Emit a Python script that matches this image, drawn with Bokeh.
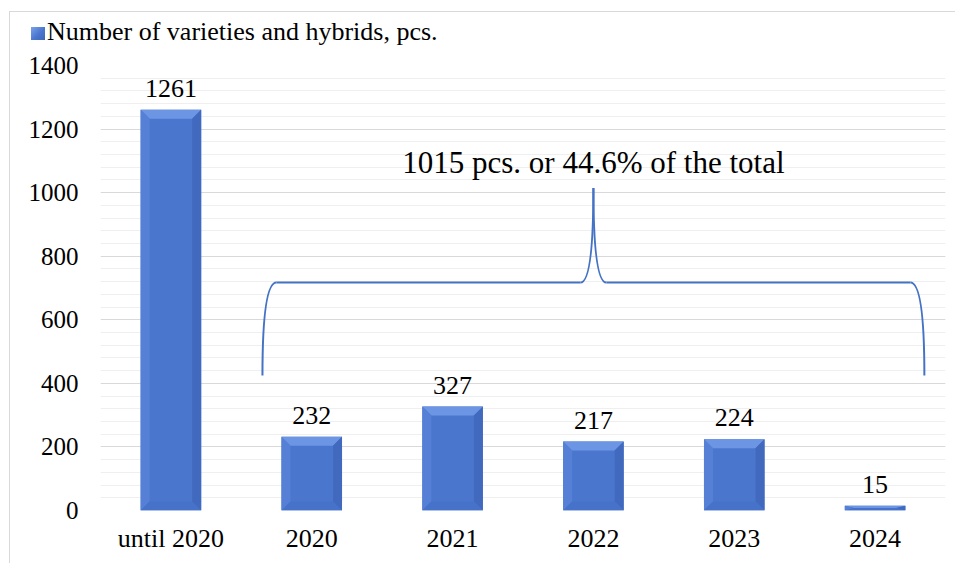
import numpy as np
from bokeh.plotting import figure
from bokeh.layouts import column
from bokeh.models import (FactorRange, Range1d, SingleIntervalTicker, ColumnDataSource,
                          LabelSet, Label, Div)
from bokeh.embed import file_html
from bokeh.resources import INLINE
from bokeh.core.properties import value

# ---- data ----
categories = ["until 2020", "2020", "2021", "2022", "2023", "2024"]
counts = [1261, 232, 327, 217, 224, 15]
series_name = "Number of varieties and hybrids, pcs."
brace_total = sum(counts[1:])           # 1015
total_all = sum(counts)
annotation_text = f"{brace_total} pcs. or {brace_total / total_all * 100:.1f}% of the total"
brace_left, brace_right = 1.15, 5.85    # in category units
brace_arm_y = 717
brace_end_y = 425
y_max = 1400

# ---- layout ----
FW, FH = 845, 445
px_x = FW / len(categories)
px_y = FH / y_max
FONT = "Liberation Serif"
BAR_COLOR = "#4A76CE"
LEGEND_H = 45

p = figure(x_range=FactorRange(*categories), y_range=Range1d(0, y_max),
           frame_width=FW, frame_height=FH,
           min_border_left=100, min_border_right=10, min_border_top=65 - LEGEND_H,
           min_border_bottom=53,
           output_backend="svg", toolbar_location=None)
p.outline_line_color = None
p.background_fill_color = "white"
p.border_fill_alpha = 0

# grid
p.yaxis.ticker = SingleIntervalTicker(interval=200, num_minor_ticks=5)
p.xgrid.grid_line_color = None
p.ygrid.grid_line_color = "#d9d9d9"
p.ygrid.minor_grid_line_color = "#efefef"

for ax in (p.xaxis[0], p.yaxis[0]):
    ax.axis_line_color = None
    ax.major_tick_line_color = None
    ax.minor_tick_line_color = None
    ax.major_tick_out = 0
    ax.major_tick_in = 0
    ax.minor_tick_out = 0
    ax.minor_tick_in = 0
    ax.major_label_text_font = FONT
    ax.major_label_text_color = "black"
p.yaxis.major_label_text_font_size = "25px"
p.xaxis.major_label_text_font_size = "26px"
p.yaxis.major_label_standoff = 22
p.xaxis.major_label_standoff = 13

# bars
BW = 0.43
src = ColumnDataSource(dict(cat=categories, val=counts, lab=[str(c) for c in counts]))
bars = p.vbar(x="cat", top="val", width=BW, source=src, fill_color=BAR_COLOR, line_color=None)

# bevel facets
b = 9
xs, ys, cols = [], [], []
for i, v in enumerate(counts):
    xc = i + 0.5
    xl, xr = xc - BW / 2, xc + BW / 2
    bx = b / px_x
    by = min(b / px_y, v / 2)
    xs += [[xl, xr, xr - bx, xl + bx], [xl, xl, xl + bx, xl + bx],
           [xr, xr, xr - bx, xr - bx], [xl, xr, xr - bx, xl + bx]]
    ys += [[v, v, v - by, v - by], [0, v, v - by, by],
           [0, v, v - by, by], [0, 0, by, by]]
    cols += ["#6C96E4", "#5580D6", "#4169BE", "#4672CA"]
p.patches(xs, ys, fill_color=cols, line_color=None)

# value labels
p.add_layout(LabelSet(x="cat", y="val", text="lab", source=src, y_offset=13,
                      text_align="center", text_baseline="alphabetic",
                      text_font=value(FONT), text_font_size="26px", text_color="black"))

# brace
mid = (brace_left + brace_right) / 2
dxc = 14 / px_x
dxp = 13 / px_x
bc = "#4472C4"
p.quadratic(x0=[brace_left, mid - dxp, mid + dxp, brace_right],
            y0=[brace_end_y, brace_arm_y, brace_arm_y, brace_end_y],
            cx=[brace_left, mid, mid, brace_right],
            cy=[brace_arm_y, brace_arm_y, brace_arm_y, brace_arm_y],
            x1=[brace_left + dxc, mid, mid, brace_right - dxc],
            y1=[brace_arm_y, brace_total, brace_total, brace_arm_y],
            line_color=bc, line_width=2)
p.segment(x0=[brace_left + dxc, mid + dxp], y0=[brace_arm_y, brace_arm_y],
          x1=[mid - dxp, brace_right - dxc], y1=[brace_arm_y, brace_arm_y],
          line_color=bc, line_width=2)

p.add_layout(Label(x=mid, y=brace_total, y_offset=25, text=annotation_text,
                   text_align="center", text_baseline="alphabetic",
                   text_font=FONT, text_font_size="31px", text_color="black"))

# legend row above the plot area
legend_html = (
    f'<div style="font-family:\'{FONT}\';font-size:26px;line-height:30px;'
    f'padding:17px 0 0 31px;white-space:nowrap;color:black;">'
    f'<span style="display:inline-block;width:14px;height:13px;margin-right:2px;'
    f'background:linear-gradient(135deg,#7BA2EA,{BAR_COLOR} 55%,#3C66B8);"></span>'
    f'{series_name}</div>'
)
legend_div = Div(text=legend_html, width=955, height=LEGEND_H, margin=(0, 0, 0, 0))

chart_border = {
    "background-color": "white",
    "background-image": "linear-gradient(#d9d9d9,#d9d9d9),linear-gradient(#d9d9d9,#d9d9d9)",
    "background-size": "calc(100% - 9px) 1px, 1px calc(100% - 11px)",
    "background-position": "9px 11px, 9px 11px",
    "background-repeat": "no-repeat",
}
layout = column(legend_div, p, spacing=0, styles=chart_border)
open("out.html", "w").write(file_html(layout, INLINE))
